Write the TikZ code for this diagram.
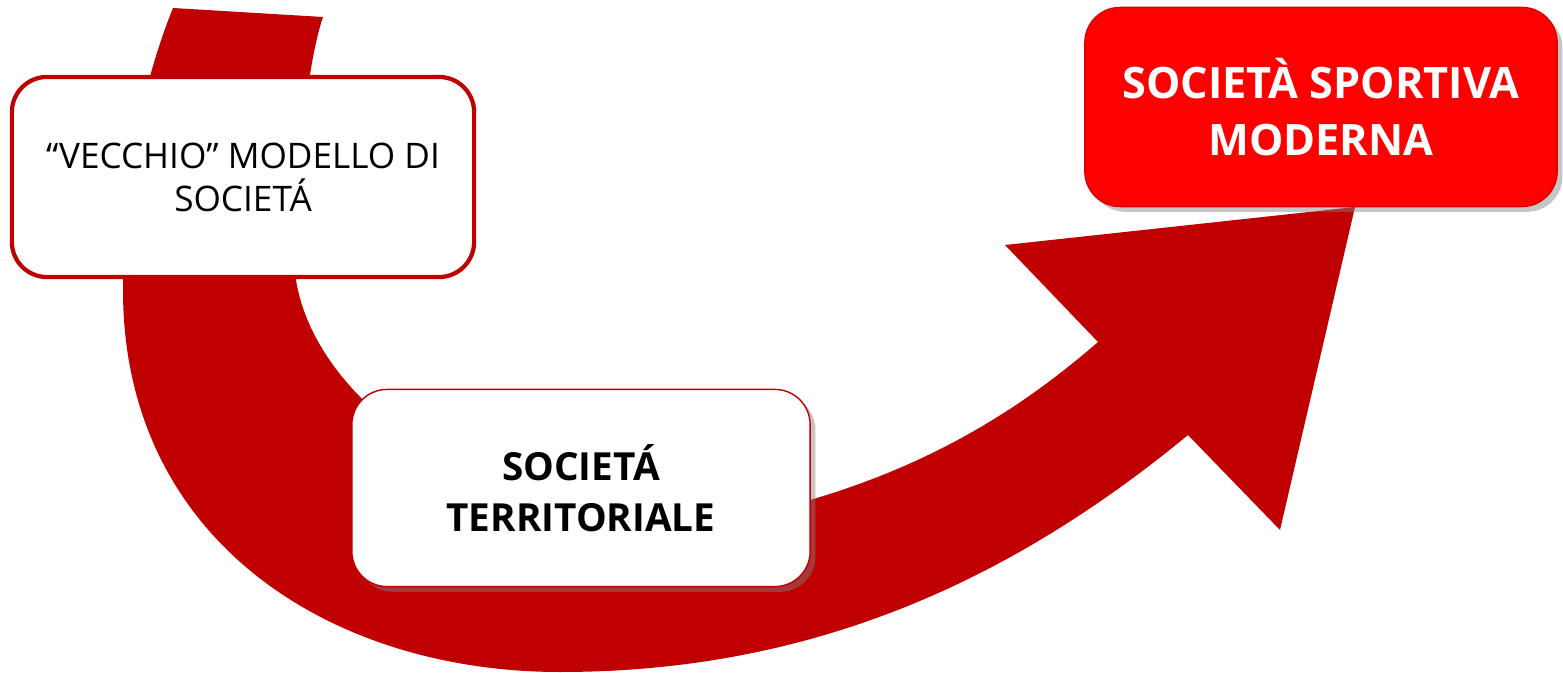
\documentclass[tikz,border=0pt]{standalone}
\usepackage{fontspec}
\setmainfont{Open Sans}
\usetikzlibrary{shadows}
\definecolor{arrowred}{RGB}{192,0,0}
\definecolor{boxred}{RGB}{255,0,0}

\begin{document}
\begin{tikzpicture}[x=0.01cm, y=-0.01cm,
    stagebox/.style={rounded corners=10pt, align=center, inner sep=0pt,
      minimum height=2cm},
    boxshadow/.style={drop shadow={opacity=0.45, shadow xshift=1.5pt, shadow yshift=-1.5pt}}]
    \useasboundingbox (0,0) rectangle (1563,673);

    % big curved arrow
    \fill[arrowred] (173,8) -- (323,17) .. controls (310,55) and (296,150) .. (296,280)
        .. controls (320,430) and (560,570) .. (810,500)
        .. controls (930,465) and (1020,410) .. (1098,342)
        -- (1005,245) -- (1355,207) -- (1280,530) -- (1188,435)
        .. controls (1000,590) and (800,672) .. (560,672)
        .. controls (330,672) and (123,540) .. (123,290)
        .. controls (123,180) and (142,85) .. (173,8) -- cycle;

    % stages
    \node[stagebox, draw=arrowred, line width=1.2pt, fill=white, minimum width=4.62cm,
        font=\fontsize{10}{12.2}\selectfont] (vecchio) at (243,177)
        {``VECCHIO'' MODELLO DI\\SOCIET\'A};
    \node[stagebox, boxshadow, draw=arrowred, line width=0.4pt, fill=white, minimum width=4.58cm,
        minimum height=1.97cm, font=\fontsize{11}{14.4}\bfseries] (territoriale) at (581,488)
        {SOCIET\'A\\TERRITORIALE};
    \node[stagebox, boxshadow, draw=boxred!85!black, line width=0.4pt, fill=boxred, minimum width=4.72cm,
        minimum height=1.99cm, text=white, font=\fontsize{12.3}{16.2}\bfseries] (moderna) at (1321,107)
        {SOCIET\`A SPORTIVA\\MODERNA};
\end{tikzpicture}
\end{document}
